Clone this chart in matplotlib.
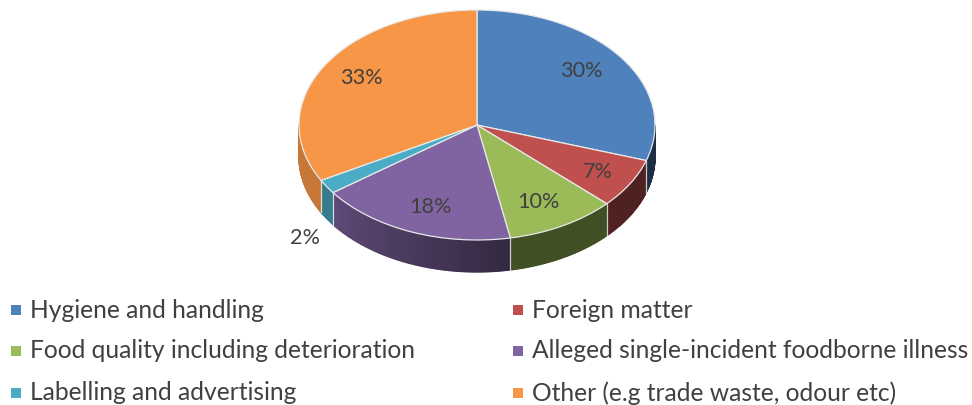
import numpy as np
import matplotlib
matplotlib.use('Agg')
import matplotlib.pyplot as plt
from matplotlib.colors import to_rgb

categories = ['Hygiene and handling', 'Foreign matter', 'Food quality including deterioration',
              'Alleged single-incident foodborne illness', 'Labelling and advertising',
              'Other (e.g trade waste, odour etc)']
values = [30, 7, 10, 18, 2, 33]
colors = ['#4F81BD', '#C0504D', '#9BBB59', '#8064A2', '#4BACC6', '#F79646']
labels = ['30%', '7%', '10%', '18%', '2%', '33%']
label_pos = [(581, 71), (598, 172), (538, 202), (430, 207), (305, 238), (361, 78)]
legend_pos = [(16, 310), (518, 310), (16, 351), (518, 351), (16, 393), (518, 393)]
wall_shade = [(0.36, 0.36), (0.41, 0.41), (0.42, 0.42), (0.40, 0.74), (0.72, 0.72), (0.80, 0.80)]

W, H = 972, 405
CX, CY, RX, RY, DEPTH = 477, 125, 178, 115, 32
TXT = '#404040'

plt.rcParams['font.family'] = ['Lato', 'DejaVu Sans']
fig = plt.figure(figsize=(W / 100, H / 100), dpi=100)
bg = fig.add_axes([0, 0, 1, 1])
bg.set_xlim(0, W); bg.set_ylim(H, 0); bg.axis('off')

# side wall, drawn in thin strips so that it can carry a gradient
fracs = np.array(values) / sum(values)
edges = np.concatenate([[0], np.cumsum(fracs)]) * 2 * np.pi
for i, c in enumerate(colors):
    a0, a1 = edges[i], edges[i + 1]
    ts = np.linspace(a0, a1, max(int((a1 - a0) / 0.01), 2) + 1)
    for t0, t1 in zip(ts[:-1], ts[1:]):
        mid = (t0 + t1) / 2
        if np.cos(mid) > 0:
            continue
        x0, x1 = CX + RX * np.sin(t0), CX + RX * np.sin(t1)
        y0, y1 = CY - RY * np.cos(t0), CY - RY * np.cos(t1)
        s0, s1 = wall_shade[i]
        col = tuple(np.array(to_rgb(c)) * (s0 + (s1 - s0) * (mid - a0) / (a1 - a0)))
        bg.fill([x0, x1, x1, x0], [y0, y1, y1 + DEPTH, y0 + DEPTH],
                facecolor=col, edgecolor=col, lw=0.9, zorder=1)
for a in edges:
    if np.cos(a) < -0.1:
        x = CX + RX * np.sin(a); y = CY - RY * np.cos(a)
        bg.plot([x, x], [y, y + DEPTH], color='white', lw=0.9, alpha=0.75, zorder=2)

# top face
ax = fig.add_axes([(CX - RX) / W, 1 - (CY + RY) / H, 2 * RX / W, 2 * RY / H])
ax.pie(values, colors=colors, startangle=90, counterclock=False, radius=1,
       wedgeprops={'edgecolor': '#e8e8e8', 'linewidth': 0.9})
ax.set_aspect('auto'); ax.set_xlim(-1, 1); ax.set_ylim(-1, 1)
ax.patch.set_alpha(0)

txt = fig.add_axes([0, 0, 1, 1]); txt.set_xlim(0, W); txt.set_ylim(H, 0); txt.axis('off')
for t, (x, y) in zip(labels, label_pos):
    txt.text(x, y, t, fontsize=15.6, color=TXT, ha='center', va='center')
for name, c, (x, y) in zip(categories, colors, legend_pos):
    txt.plot([x], [y], marker='s', ms=6.5, color=c, ls='none', mew=0)
    txt.text(x + 14, y, name, fontsize=17.7, color=TXT, ha='left', va='center')
fig.savefig('out.png', dpi=100)
